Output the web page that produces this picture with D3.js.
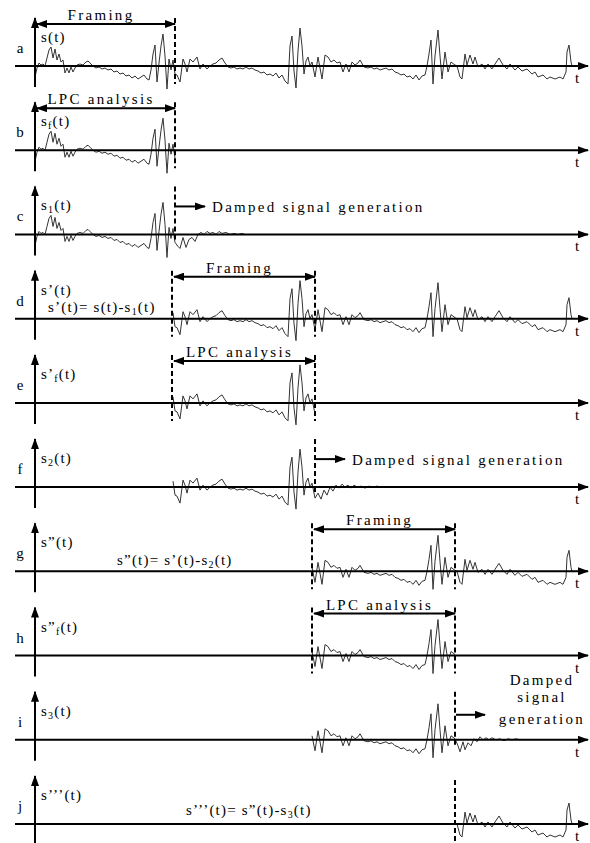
<!DOCTYPE html>
<html lang="en">
<head>
<meta charset="UTF-8">
<title>Damped signal framing</title>
<script src="https://d3js.org/d3.v7.min.js"></script>
<style>
  body { margin: 0; background: #fff; }
</style>
</head>
<body>
<svg id="svg" width="590" height="843" font-family="'Liberation Serif', 'Times New Roman', Tinos, 'DejaVu Serif', serif"></svg>
<script>
// panels and their signal names ("_x" = subscript)
const panelIds = ["a", "b", "c", "d", "e", "f", "g", "h", "i", "j"]
const signalNames = ["s(t)", "s_f(t)", "s_1(t)", "s’(t)", "s’_f(t)", "s_2(t)",
                     "s”(t)", "s”_f(t)", "s_3(t)", "s’’’(t)"]
const panelKinds = ["frame", "lpc", "damp", "frame", "lpc", "damp", "frame", "lpc", "damp", "rest"]

// speech signal s(t), time in samples
const sigT = [0, 2, 4, 6, 8, 10, 12, 14, 16, 18, 20, 22, 24, 26, 28, 30, 32, 34, 36, 38,
  40, 42, 45, 48, 51, 53, 55, 58, 61, 64, 67, 70, 73, 76, 79, 82, 85, 88, 91, 94,
  97, 100, 103, 106, 109, 112, 114, 116, 118, 120, 122, 124, 126, 128, 130, 132, 134, 136, 138, 140,
  142, 145, 148, 150, 152, 155, 158, 162, 165, 168, 172, 175, 178, 181, 184, 187, 190, 193, 196, 199,
  202, 205, 208, 211, 214, 217, 220, 223, 226, 229, 232, 235, 238, 241, 244, 247, 250, 253, 255, 257,
  259, 261, 263, 265, 267, 269, 271, 273, 275, 277, 280, 283, 287, 290, 293, 296, 299, 302, 305, 308,
  311, 314, 317, 320, 323, 325, 329, 333, 336, 339, 342, 345, 348, 351, 354, 357, 360, 363, 366, 369,
  372, 375, 378, 381, 384, 387, 390, 392, 394, 396, 398, 400, 403, 405, 407, 410, 413, 416, 420, 422,
  425, 427, 430, 432, 435, 438, 440, 443, 447, 450, 453, 457, 460, 464, 468, 472, 475, 480, 483, 487,
  492, 497, 500, 503, 508, 512, 515, 520, 525, 528, 531, 532, 534, 536, 537]
const sigV = [-11, -2, 3, 1, 2, 0, 8, 16, 19, 8, 17, 6, 12, 4, 6, -7, -2, -7, -1, -6,
  -2, 1, 2, 1, 4, 5, 3, 0, -2, -1, -3, -2, -4, -3, -6, -5, -8, -7, -10, -9,
  -12, -10, -13, -11, -9, -13, -14, -4, 12, 21, -16, 3, 20, 32, 10, -23, 7, -4, 6, -8,
  -9, -16, 7, 2, -6, 7, 4, 9, -3, 2, -3, 0, 2, 3, 6, 8, 3, -1, -2, -1,
  -3, -2, -3, -1, -3, -2, -4, -5, -7, -6, -9, -8, -10, -7, -12, -9, -15, -18, 20, 30,
  -5, -22, 15, 38, 20, -8, 5, 9, 0, 4, -11, 9, -13, 11, 9, 4, 6, 3, 4, -6,
  2, -6, 4, 1, 3, 6, -1, -2, -1, -3, -2, -4, -3, -2, -4, -3, -6, -7, -9, -8,
  -11, -10, -13, -9, -14, -10, -9, 0, 12, 26, -18, 10, 36, 10, -13, 14, -6, 4, 1, 0,
  -11, -13, 12, 1, 11, 2, 9, -1, 2, -3, 2, -3, 2, 8, 1, -3, 2, -4, -1, -5,
  -3, -8, -6, -11, -9, -13, -11, -13, -11, -13, -6, 14, 21, 4, 0]

// analysis frames (start / end sample)
const frameStart = [0, 137, 277, 420]
const frameEnd = [140, 280, 420, 537]

// generated damped signals after each frame
const damp1T = [140, 143, 145, 148, 151, 154, 157, 160, 163, 166, 169, 172, 175, 178, 181, 184, 187, 191, 195, 199, 203, 207, 210]
const damp1V = [-8, -12, -14, -3, -13, -5, -3, -7, 0, 2, 0, 3, 1, 2, 0, 3, 1, 2, 0, 1, 0, 1, 0]
const damp2T = [280, 283, 286, 289, 292, 295, 298, 301, 304, 307, 310, 313, 316, 319, 322, 326, 330, 334, 338, 342, 346, 350]
const damp2V = [-11, -6, -12, -3, -8, 0, -4, 2, -1, 3, 0, 2, -1, 2, 0, 1, -1, 1, 0, 1, 0, 0]
const damp3T = [420, 423, 425, 428, 430, 433, 436, 439, 442, 445, 448, 451, 454, 457, 461, 465, 469, 473, 477, 481, 485]
const damp3V = [1, -6, -12, -2, -10, -3, -6, 1, -2, 3, 0, 2, 0, 2, 0, 1, -1, 1, 0, 1, 0]
const damps = [[damp1T, damp1V], [damp2T, damp2V], [damp3T, damp3V]]

const equations = { d: "s’(t)= s(t)-s_1(t)", g: "s”(t)= s’(t)-s_2(t)", j: "s’’’(t)= s”(t)-s_3(t)" }
const eqX = { d: 48, g: 117, j: 186 }
const eqDy = { d: -7, g: -6, j: -9 }

const svg = d3.select("#svg")

const defs = svg.append("defs")
defs.append("marker")
    .attr("id", "arrow")
    .attr("markerUnits", "userSpaceOnUse")
    .attr("markerWidth", 11).attr("markerHeight", 8)
    .attr("refX", 10).attr("refY", 4)
    .attr("orient", "auto-start-reverse")
    .append("path").attr("d", "M0,0L11,4L0,8z").attr("fill", "#000")

const xs = d3.scaleLinear().domain([0, 550]).range([35, 585])
const rowY = d3.scalePoint().domain(panelIds).range([66, 824])

// text with "_x" subscripts
const richText = (sel, str) => {
    const parts = str.split(/_(.)/)
    parts.forEach((p, k) => {
        if (k % 2 == 1) {
            sel.append("tspan").attr("font-size", 10).attr("dy", 3).text(p)
        } else if (p.length) {
            sel.append("tspan").attr("dy", k > 0 ? -3 : 0).text(p)
        }
    })
}

const dashed = (g, t, y1, y2) => {
    g.append("line")
        .attr("x1", xs(t)).attr("x2", xs(t))
        .attr("y1", y1).attr("y2", y2)
        .attr("stroke", "#000").attr("stroke-width", 2)
        .attr("stroke-dasharray", "5,3")
}

const label = (g, x, y, str, anchor) => {
    return g.append("text")
        .attr("x", x).attr("y", y)
        .attr("font-size", 15)
        .attr("letter-spacing", 2.3)
        .attr("text-anchor", anchor || "start")
        .text(str)
}

panelIds.forEach((id, i) => {
    const base = rowY(id)
    const ys = d3.scaleLinear().domain([-40, 40]).range([base + 40, base - 40])
    const g = svg.append("g")
    const row = Math.floor(i / 3)
    const kind = panelKinds[i]

    // which part of the signal is shown
    const from = frameStart[row]
    const to = (kind == "frame" || kind == "rest") ? 537 : frameEnd[row]
    let pts = sigT.map((t, k) => [t, sigV[k]]).filter(p => p[0] >= from && p[0] <= to)
    if (kind == "damp") {
        const [dt, dv] = damps[row]
        pts = pts.concat(dt.slice(1).map((t, k) => [t, dv[k + 1]]))
    }

    g.append("path")
        .datum(pts)
        .attr("d", d3.line().x(d => xs(d[0])).y(d => ys(d[1])))
        .attr("fill", "none")
        .attr("stroke", "#333")
        .attr("stroke-width", 1)

    // axes
    g.append("line")
        .attr("x1", 15).attr("x2", 588)
        .attr("y1", base).attr("y2", base)
        .attr("stroke", "#000").attr("stroke-width", 2)
        .attr("marker-end", "url(#arrow)")
    g.append("line")
        .attr("x1", xs(0)).attr("x2", xs(0))
        .attr("y1", base + 21).attr("y2", base - 48)
        .attr("stroke", "#000").attr("stroke-width", 2)
        .attr("marker-end", "url(#arrow)")

    g.append("text").attr("x", 577).attr("y", base + 17)
        .attr("font-size", 15).attr("text-anchor", "middle").text("t")
    g.append("text").attr("x", 20).attr("y", base - 13)
        .attr("font-size", 15).attr("text-anchor", "middle").text(id)

    const nm = g.append("text").attr("x", 41).attr("y", base - 24)
        .attr("font-size", 15).attr("letter-spacing", 1.2)
    richText(nm, signalNames[i])

    if (equations[id]) {
        const eq = g.append("text").attr("x", eqX[id]).attr("y", base + eqDy[id])
            .attr("font-size", 15).attr("letter-spacing", 1.2)
        richText(eq, equations[id])
    }

    if (kind == "frame" || kind == "lpc") {
        const s = frameStart[row], e = frameEnd[row]
        if (s > 0) dashed(g, s, base - 48, base + 18)
        dashed(g, e, base - 48, base + 18)
        const x1 = xs(s) + 2, x2 = xs(e)
        g.append("line")
            .attr("x1", x1).attr("x2", x2)
            .attr("y1", base - 42).attr("y2", base - 42)
            .attr("stroke", "#000").attr("stroke-width", 2)
            .attr("marker-start", "url(#arrow)")
            .attr("marker-end", "url(#arrow)")
        label(g, (x1 + x2) / 2 - 5, base - 46, kind == "frame" ? "Framing" : "LPC analysis", "middle")
    } else if (kind == "damp") {
        const e = frameEnd[row]
        dashed(g, e, base - 48, base + 8)
        const ay = row == 2 ? base - 25 : base - 28
        g.append("line")
            .attr("x1", xs(e) + 1).attr("x2", xs(e) + 30)
            .attr("y1", ay).attr("y2", ay)
            .attr("stroke", "#000").attr("stroke-width", 2)
            .attr("marker-end", "url(#arrow)")
        if (row < 2) {
            label(g, xs(e) + 37, base - 22, "Damped signal generation")
        } else {
            label(g, 542, base - 55, "Damped", "middle")
            label(g, 542, base - 38, "signal", "middle")
            label(g, 542, base - 16, "generation", "middle")
        }
    } else {
        dashed(g, frameStart[row], base - 44, base + 20)
    }
})
</script>
</body>
</html>
